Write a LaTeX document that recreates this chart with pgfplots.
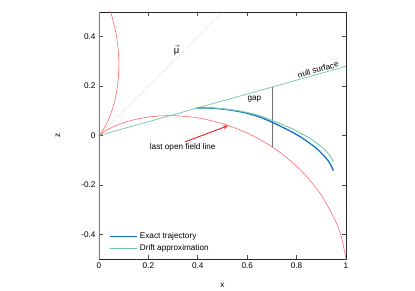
\documentclass[border=0pt]{standalone}
\usepackage{amsmath}
\usepackage{pgfplots}
\pgfplotsset{compat=1.18}
\usepackage{fontspec}
\setmainfont{Liberation Sans}
\usetikzlibrary{arrows.meta}
\definecolor{exactblue}{RGB}{20,115,190}
\definecolor{driftgreen}{RGB}{110,200,170}
\definecolor{fieldred}{RGB}{255,105,105}
\definecolor{arrowred}{RGB}{230,30,40}
\pgfplotsset{longline/.style={legend image code/.code={\draw[#1] (0bp,0bp) -- (27bp,0bp);}}}
\begin{document}
\begin{tikzpicture}
\useasboundingbox (-99bp,-32bp) rectangle (316bp,259bp);
\begin{axis}[
  at={(0,0)}, anchor=south west,
  scale only axis, width=247bp, height=247bp,
  xmin=0, xmax=1, ymin=-0.5, ymax=0.5,
  xtick={0,0.2,0.4,0.6,0.8,1}, xticklabels={0,0.2,0.4,0.6,0.8,1},
  ytick={-0.4,-0.2,0,0.2,0.4}, yticklabels={-0.4,-0.2,0,0.2,0.4},
  font=\fontsize{8.2bp}{9.8bp}\selectfont,
  tick style={black!70, line width=0.6bp},
  major tick length=4bp,
  axis line style={black!85, line width=0.8bp},
  xlabel={x}, ylabel={z},
  xlabel style={at={(axis description cs:0.5,0)}, anchor=base, yshift=-28bp},
  ylabel style={at={(axis description cs:-0.166,0.5)}, anchor=center},
  legend style={draw=none, fill=none, at={(axis description cs:0.03,0.012)}, anchor=south west,
    font=\fontsize{8.2bp}{9.8bp}\selectfont, row sep=0.5bp},
  legend cell align=left,
]
% last open field line (big branch)
\addplot[fieldred, line width=0.6bp, smooth, forget plot] coordinates {
(0,0)(0.00723,0.00606)(0.03068,0.02148)(0.07205,0.04160)(0.13168,0.06140)
(0.20845,0.07587)(0.29992,0.08036)(0.40240,0.07096)(0.51121,0.04473)(0.621,0)
(0.72605,-0.06352)(0.82073,-0.14472)(0.89976,-0.24109)(0.95865,-0.34892)
(0.98283,-0.41719)(0.99979,-0.4999)(1.00288,-0.53324)};
% mirrored branch
\addplot[fieldred, line width=0.6bp, smooth, forget plot] coordinates {
(0,0)(0.00606,0.00723)(0.02148,0.03068)(0.04160,0.07205)(0.06140,0.13168)
(0.07587,0.20845)(0.08036,0.29992)(0.07096,0.40240)(0.04473,0.51121)};
% magnetic moment direction
\addplot[gray!70, dotted, line width=0.6bp, forget plot] coordinates {(0,0)(0.5,0.5)};
% null surface
\addplot[driftgreen, line width=0.7bp, forget plot] coordinates {(0,0)(1,0.28)};
% gap
\addplot[black!55, line width=0.8bp, forget plot] coordinates {(0.7,-0.046)(0.7,0.197)};
% left border overlay
\addplot[gray, line width=1.6bp, forget plot] coordinates {(0,-0.5)(0,0.5)};
% exact trajectory
\addplot[exactblue, line width=1.3bp, smooth, longline] coordinates {
(0.395,0.112)(0.45,0.111)(0.5,0.107)(0.55,0.100)(0.6,0.090)(0.65,0.075)
(0.70,0.054)(0.75,0.030)(0.787,0.011)(0.82,-0.008)(0.854,-0.032)(0.88,-0.052)
(0.908,-0.079)(0.93,-0.105)(0.949,-0.142)};
\addlegendentry{Exact trajectory}
% drift approximation
\addplot[driftgreen, line width=0.9bp, smooth, longline] coordinates {
(0.395,0.112)(0.45,0.112)(0.5,0.108)(0.55,0.102)(0.6,0.093)(0.65,0.080)
(0.70,0.061)(0.75,0.041)(0.787,0.025)(0.82,0.007)(0.854,-0.011)(0.88,-0.030)
(0.908,-0.052)(0.93,-0.075)(0.949,-0.106)};
\addlegendentry{Drift approximation}
% annotations
\node at (axis cs:0.314,0.346) {\fontsize{9.5bp}{11bp}\selectfont$\vec{\text{μ}}$};
\node at (axis cs:0.629,0.148) {gap};
\node[rotate=15.6] at (axis cs:0.887,0.267) {null surface};
\node at (axis cs:0.339,-0.048) {last open field line};
\draw[arrowred, line width=0.9bp, -{Stealth[length=5bp,width=4bp]}] (axis cs:0.348,-0.026) -- (axis cs:0.523,0.040);
\end{axis}
\end{tikzpicture}
\end{document}
